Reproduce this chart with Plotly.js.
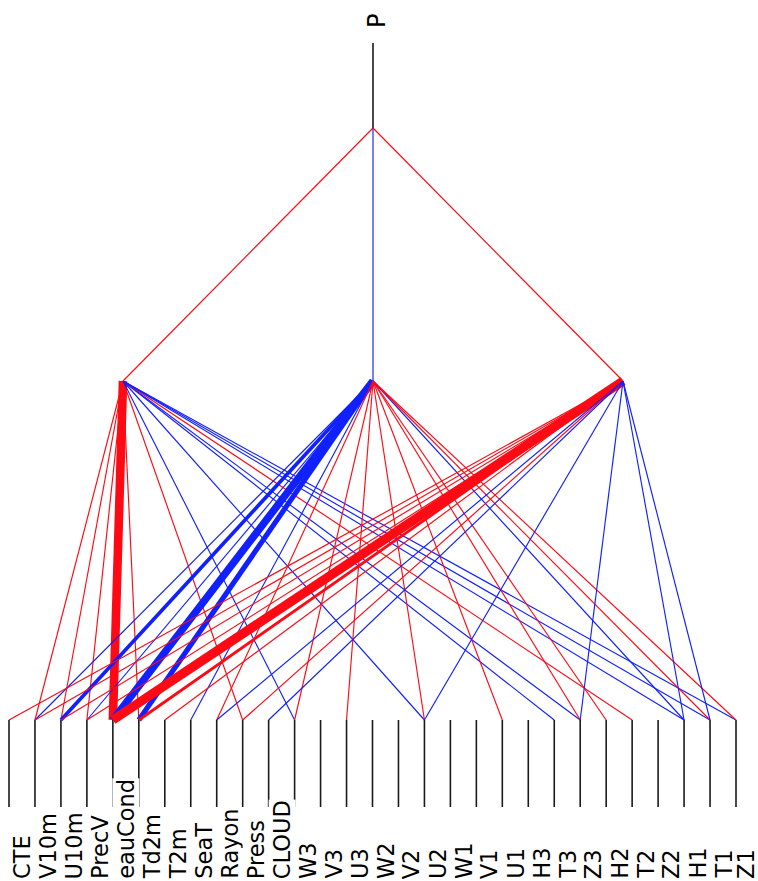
<!DOCTYPE html>
<html><head><meta charset="utf-8">
<script src="https://cdn.plot.ly/plotly-3.0.1.min.js"></script>
<style>html,body{margin:0;padding:0;background:#fff}#chart{width:758px;height:881px}</style>
</head><body><div id="chart"></div>
<script>
// Input node labels (bottom layer, left to right)
const inputLabels = ['CTE','V10m','U10m','PrecV','eauCond','Td2m','T2m','SeaT','Rayon','Press','CLOUD',
  'W3','V3','U3','W2','V2','U2','W1','V1','U1','H3','T3','Z3','H2','T2','Z2','H1','T1','Z1'];
const outputLabel = 'P';
// Connection weights input -> hidden node (positive = red, negative = blue, 0 = not drawn)
const wH1 = [0,1,1,1,7.5,1,0,0,0,1,0,-1,0,0,0,0,-1,0,0,0,0,-1,-1,0,1,0,-1,-1,-1];
const wH2 = [0,-1,-3.2,-1,-6.5,-4.5,0,-1,1,0,0,1,0,1,0,0,1,0,0,1,0,0,1,1,0,0,-1,1,1];
const wH3 = [1,1,1,1,8,2.5,1,0,-1,1,-1,0,0,0,0,0,-1,0,0,0,0,0,-1,0,0,0,-1,-1,0];
// Connection weights hidden -> output
const wOut = [1,-1,1];

const POS = '#ff0a14', NEG = '#1020ff';
const W = 758, H = 881;
const inX0 = 9, inX1 = 736, yIn = 720, yHid = 381, yOut = 128;
const nIn = inputLabels.length;
const dxIn = (inX1 - inX0) / (nIn - 1);
const inX = i => inX0 + i * dxIn;
const hidW = [wH1, wH2, wH3];
const hidCenter = 373, hidSpacing = 250;
const hidX = j => hidCenter + (j - (hidW.length - 1) / 2) * hidSpacing;
const outX = hidCenter;

const traces = [];
function seg(x0, y0, x1, y1, color, width) {
  traces.push({type:'scatter', mode:'lines', x:[x0,x1], y:[y0,y1],
    line:{color:color, width:width}, hoverinfo:'skip', showlegend:false});
}
// stubs
for (let i = 0; i < nIn; i++) seg(inX(i), yIn, inX(i), 807, '#1a1a1a', 1.6);
seg(outX, yOut, outX, 43, '#1a1a1a', 1.6);
// input -> hidden
hidW.forEach((ws, j) => {
  ws.forEach((w, i) => {
    if (w === 0) return;
    seg(inX(i), yIn, hidX(j), yHid, w > 0 ? POS : NEG, Math.abs(w) * 1.15);
  });
});
// hidden -> output
wOut.forEach((w, j) => seg(hidX(j), yHid, outX, yOut, w > 0 ? POS : NEG, Math.abs(w) * 1.15));

const fontFam = '"DejaVu Sans", "Liberation Sans", sans-serif';
const annotations = inputLabels.map((t, i) => ({
  x: Math.min(inX(i) + dxIn / 2, 746), y: 880, xref:'x', yref:'y', text: t, showarrow:false,
  textangle: -90, xanchor:'center', yanchor:'bottom',
  font:{family: fontFam, size: 22.5, color:'#000'}, bgcolor:'#fff', borderpad: 0
}));
annotations.push({x: outX + 4, y: 30, xref:'x', yref:'y', text: outputLabel, showarrow:false,
  textangle:-90, xanchor:'center', yanchor:'bottom', font:{family: fontFam, size: 24, color:'#000'}});

Plotly.newPlot('chart', traces, {
  width: W, height: H, margin:{l:0,r:0,t:0,b:0}, autosize:false,
  paper_bgcolor:'#fff', plot_bgcolor:'#fff', showlegend:false,
  xaxis:{range:[0, W], visible:false, fixedrange:true},
  yaxis:{range:[H, 0], visible:false, fixedrange:true},
  annotations: annotations
}, {staticPlot:true, displayModeBar:false});
</script>
</body></html>
